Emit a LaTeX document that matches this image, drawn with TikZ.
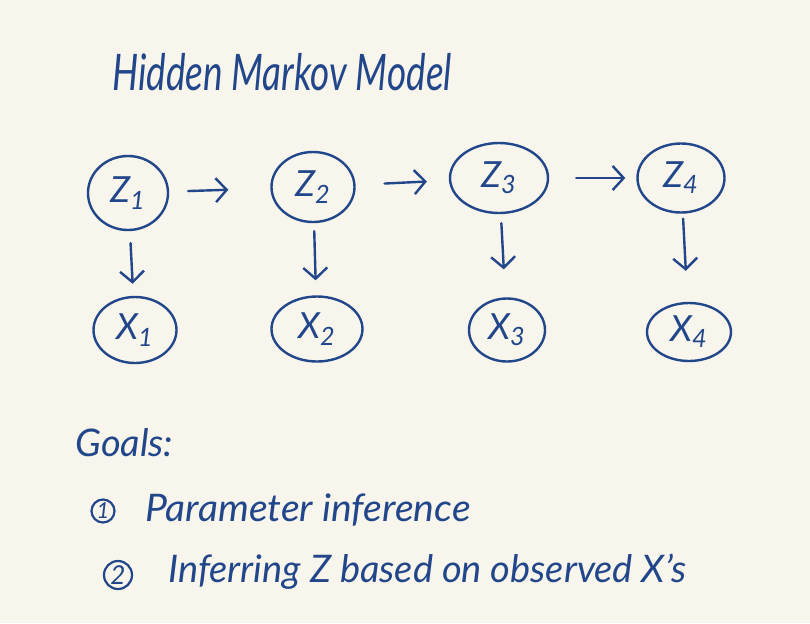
\documentclass[tikz,border=0pt]{standalone}
\usepackage{fontspec}
\setmainfont{Lato}
\usepackage{tikz}
\usetikzlibrary{shapes.geometric, arrows.meta}

\definecolor{ink}{RGB}{34,70,138}
\definecolor{paper}{RGB}{247,245,236}

\begin{document}
\begin{tikzpicture}[x=0.5pt, y=-0.5pt,
		state/.style={ellipse, draw=ink, line width=1.2pt, inner sep=0pt, text=ink, font=\itshape\fontsize{18}{18}\selectfont},
		flow/.style={draw=ink, line width=1.2pt, line cap=round, -{Straight Barb[length=5.5pt, width=12pt, line width=1.2pt]}},
		hand/.style={text=ink, inner sep=0pt, font=\itshape\fontsize{19}{19}\selectfont},
		num/.style={circle, draw=ink, line width=1.1pt, inner sep=0pt, minimum size=11pt, text=ink, font=\itshape\fontsize{11}{11}\selectfont}]
		% Paper
		\fill[paper] (0,0) rectangle (810,623);
		\useasboundingbox (0,0) rectangle (810,623);

		% Title
		\node[hand, font=\itshape\fontsize{21}{21}\selectfont, xscale=0.88, yscale=1.2] (title) at (282,72) {Hidden Markov Model};

		% Hidden states Z
		\node[state, minimum width=40pt, minimum height=37pt] (z1) at (128,193) {Z\textsubscript{1}};
		\node[state, minimum width=41.5pt, minimum height=35pt] (z2) at (313,187) {Z\textsubscript{2}};
		\node[state, minimum width=49pt, minimum height=35pt] (z3) at (499,178) {Z\textsubscript{3}};
		\node[state, minimum width=43.5pt, minimum height=34.5pt] (z4) at (681,178) {Z\textsubscript{4}};

		% Observations X
		\node[state, minimum width=41.5pt, minimum height=33pt] (x1) at (135,330) {X\textsubscript{1}};
		\node[state, minimum width=45.5pt, minimum height=32.5pt] (x2) at (317,329) {X\textsubscript{2}};
		\node[state, minimum width=38pt, minimum height=31.5pt] (x3) at (507,330) {X\textsubscript{3}};
		\node[state, minimum width=42pt, minimum height=29pt] (x4) at (689,332) {X\textsubscript{4}};

		% Transitions between hidden states
		\draw[flow, shorten <=9.5pt, shorten >=21pt] (z1) -- (z2);
		\draw[flow, shorten <=14.5pt, shorten >=11pt] (z2) -- (z3);
		\draw[flow, shorten <=13.5pt, shorten >=5.5pt] (z3) -- (z4);

		% Emissions
		\draw[flow, shorten <=6pt, shorten >=6pt] (z1) -- (x1);
		\draw[flow, shorten <=4pt, shorten >=7.5pt] (z2) -- (x2);
		\draw[flow, shorten <=4.5pt, shorten >=14pt] (z3) -- (x3);
		\draw[flow, shorten <=2.5pt, shorten >=15.5pt] (z4) -- (x4);

		% Goals
		\node[hand, anchor=west] (goals) at (75,443) {Goals:};
		\node[num, minimum size=11.5pt] (n1) at (103,511) {1};
		\node[hand, anchor=west, xscale=1.03] (goal1) at (145,510) {Parameter inference};
		\node[num, minimum size=14pt, font=\itshape\fontsize{13}{13}\selectfont] (n2) at (118,575) {2};
		\node[hand, anchor=west] (goal2) at (168,572) {Inferring Z based on observed X's};
	\end{tikzpicture}
\end{document}
